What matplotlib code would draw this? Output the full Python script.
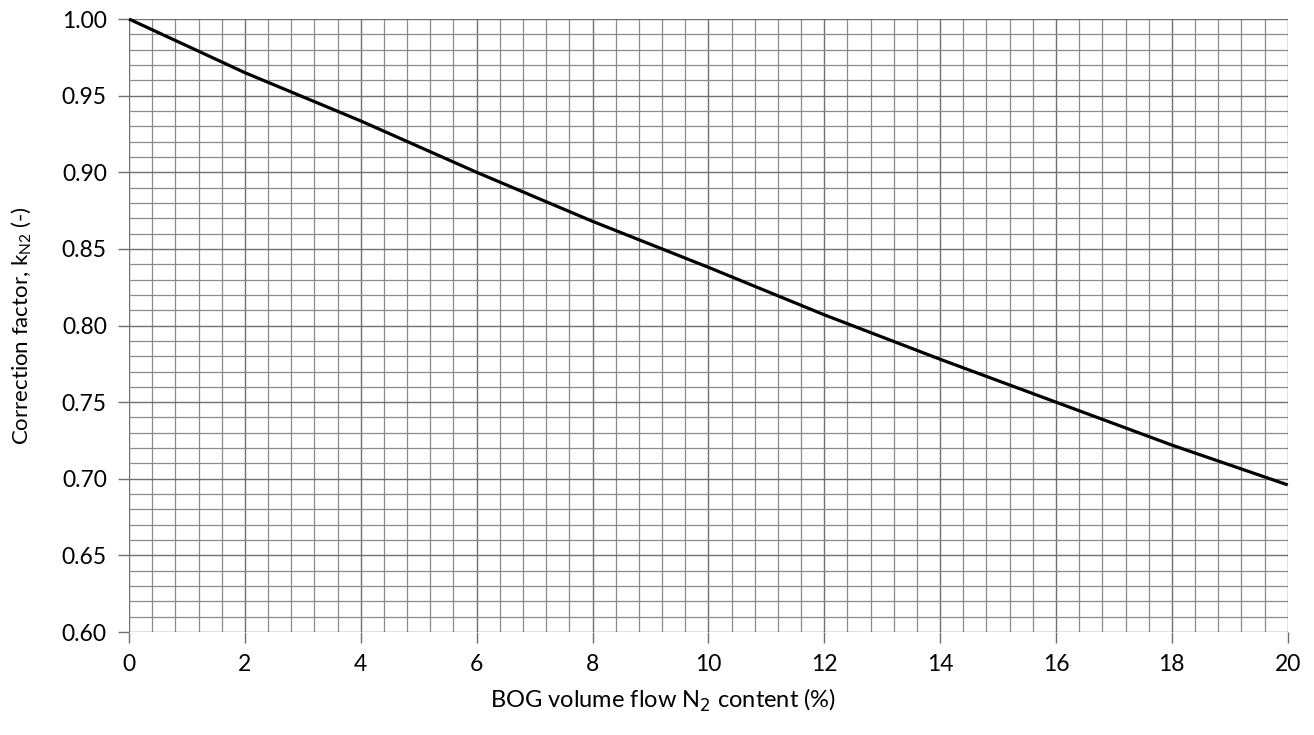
import matplotlib
matplotlib.use("Agg")
import matplotlib.pyplot as plt
import numpy as np
from matplotlib.ticker import MultipleLocator

n2_content = [0, 2, 4, 6, 8, 10, 12, 14, 16, 18, 20]
k_n2 = [1.000, 0.965, 0.9335, 0.900, 0.868, 0.838, 0.807, 0.778, 0.750, 0.722, 0.696]
x_ticks = [0, 2, 4, 6, 8, 10, 12, 14, 16, 18, 20]
y_ticks = [0.60, 0.65, 0.70, 0.75, 0.80, 0.85, 0.90, 0.95, 1.00]

plt.rcParams['font.family'] = ['Lato', 'DejaVu Sans']

fig = plt.figure(figsize=(13.14, 7.35), dpi=100)
ax = fig.add_axes([0.0982, 0.1401, 0.8818, 0.8340])

ax.set_xlim(0, 20)
ax.set_ylim(0.60, 1.00)
ax.set_xticks(x_ticks)
ax.set_yticks(y_ticks)
ax.set_xticklabels([str(v) for v in x_ticks])
ax.set_yticklabels([f"{v:.2f}" for v in y_ticks])
ax.xaxis.set_minor_locator(MultipleLocator(0.4))
ax.yaxis.set_minor_locator(MultipleLocator(0.01))

ax.grid(which='major', color='#707070', linewidth=1.0)
ax.grid(which='minor', color='#8a8a8a', linewidth=0.9)
ax.set_axisbelow(True)
for s in ax.spines.values():
    s.set_visible(False)

ax.tick_params(which='major', length=8, width=1, color='#707070', labelsize=16.5, pad=8)
ax.tick_params(which='minor', length=0)

ax.plot(n2_content, k_n2, color='black', linewidth=2.3, solid_capstyle='butt', clip_on=False)

ax.set_xlabel("BOG volume flow N$_2$ content (%)", fontsize=17)
ax.xaxis.set_label_coords(0.461, -0.090)
ax.set_ylabel("Correction factor, k$_{\\mathregular{N2}}$ (-)", fontsize=16, labelpad=20)

fig.savefig("out.png", dpi=100)
